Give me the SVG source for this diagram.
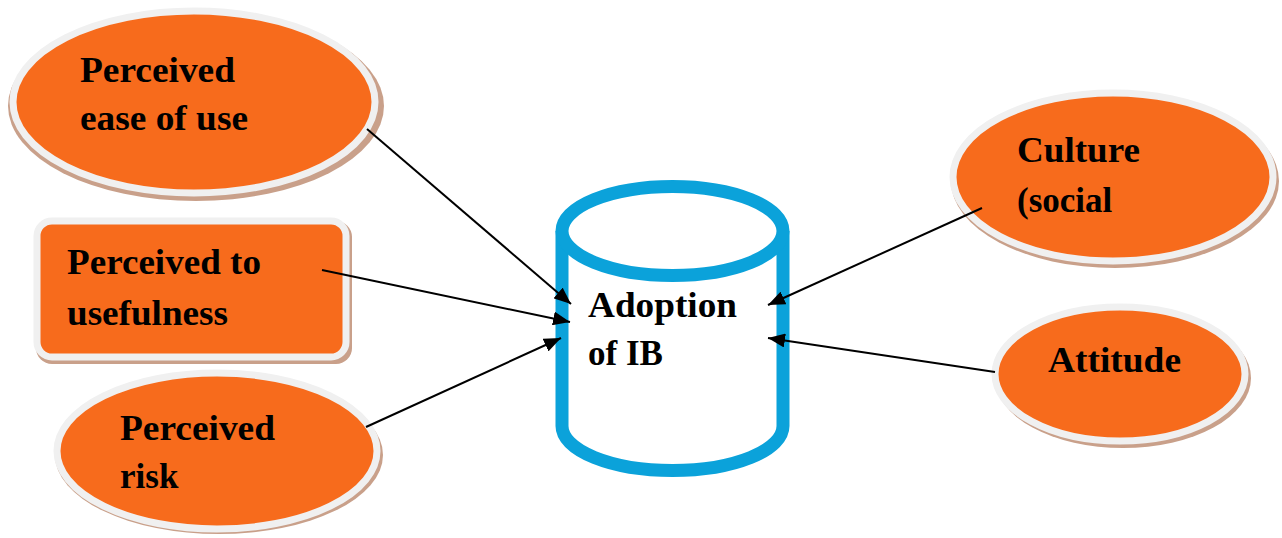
<svg xmlns="http://www.w3.org/2000/svg" width="1282" height="538" viewBox="0 0 1282 538">
<defs>
<style>
.shadow{fill:#c9a08a;}
.node{fill:#f76b1c;stroke:#f0f0f0;stroke-width:7;}
.lbl{font-family:"Liberation Serif","Times New Roman",serif;font-weight:bold;font-size:35px;fill:#000;}
.conn{stroke:#000;stroke-width:2;fill:none;marker-end:url(#arr);}
.cyl{fill:#fff;stroke:#0ba2da;stroke-width:13;}
</style>
<marker id="arr" markerUnits="userSpaceOnUse" markerWidth="18" markerHeight="14" refX="17" refY="7" orient="auto">
<path d="M0,0 L17,7 L0,14 z" fill="#000"/>
</marker>
</defs>
<rect width="1282" height="538" fill="#fff"/>

<g id="ease">
<ellipse class="shadow" cx="196" cy="106" rx="188" ry="95"/>
<ellipse class="node" cx="194" cy="102" rx="181" ry="91"/>
<text class="lbl" x="80" y="82" textLength="155" lengthAdjust="spacingAndGlyphs">Perceived</text>
<text class="lbl" x="80" y="130" textLength="168" lengthAdjust="spacingAndGlyphs">ease of use</text>
</g>

<g id="usefulness">
<rect class="shadow" x="36" y="221" width="316" height="143" rx="16"/>
<rect class="node" x="37" y="221" width="309" height="136" rx="15"/>
<text class="lbl" x="67" y="274" textLength="194" lengthAdjust="spacingAndGlyphs">Perceived to</text>
<text class="lbl" x="67" y="325" textLength="161" lengthAdjust="spacingAndGlyphs">usefulness</text>
</g>

<g id="risk">
<ellipse class="shadow" cx="219" cy="455" rx="164" ry="79"/>
<ellipse class="node" cx="217" cy="451" rx="160" ry="78"/>
<text class="lbl" x="120" y="440" textLength="155" lengthAdjust="spacingAndGlyphs">Perceived</text>
<text class="lbl" x="120" y="488">risk</text>
</g>

<g id="adoption">
<path class="cyl" d="M562,231 L562,426 A110.5,44.5 0 0 0 783,426 L783,231"/>
<ellipse class="cyl" cx="672.5" cy="231" rx="110.5" ry="44.5"/>
<text class="lbl" x="588" y="317" textLength="149" lengthAdjust="spacingAndGlyphs">Adoption</text>
<text class="lbl" x="588" y="365">of IB</text>
</g>

<g id="culture">
<ellipse class="shadow" cx="1115" cy="181" rx="164" ry="87"/>
<ellipse class="node" cx="1113" cy="177" rx="160" ry="84"/>
<text class="lbl" x="1017" y="162" textLength="123" lengthAdjust="spacingAndGlyphs">Culture</text>
<text class="lbl" x="1017" y="212">(social</text>
</g>

<g id="attitude">
<ellipse class="shadow" cx="1123" cy="378" rx="128" ry="70"/>
<ellipse class="node" cx="1120" cy="374" rx="125" ry="67"/>
<text class="lbl" x="1048" y="372" textLength="133" lengthAdjust="spacingAndGlyphs">Attitude</text>
</g>

<g id="connectors">
<line class="conn" x1="367" y1="129" x2="571" y2="304"/>
<line class="conn" x1="322" y1="270" x2="570" y2="322"/>
<line class="conn" x1="366" y1="427" x2="561" y2="338"/>
<line class="conn" x1="982" y1="208" x2="768" y2="305"/>
<line class="conn" x1="995" y1="372" x2="768" y2="338"/>
</g>
</svg>
